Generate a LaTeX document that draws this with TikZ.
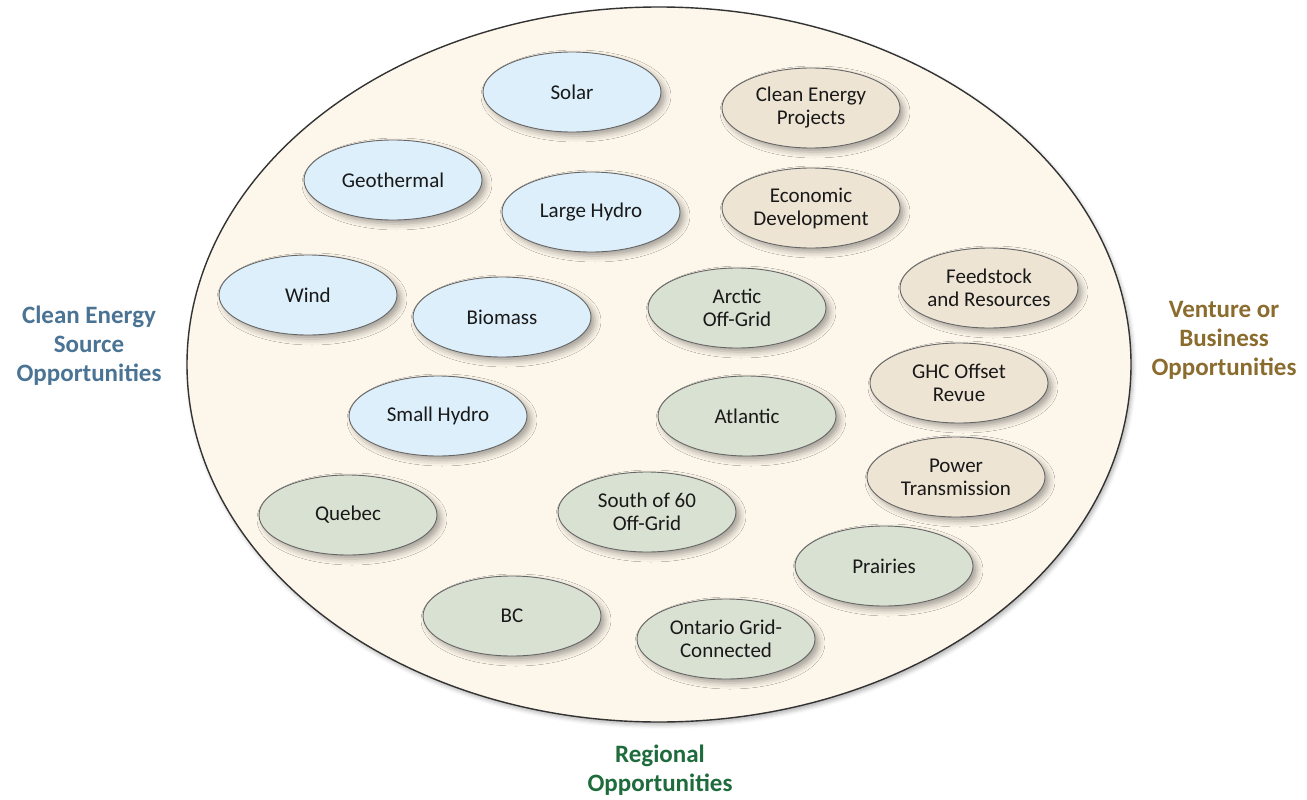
\documentclass[tikz,border=0pt]{standalone}
\usepackage{fontspec}
\setmainfont{Carlito}
\usetikzlibrary{shapes.geometric,shadows.blur}
\definecolor{bigfill}{HTML}{FDF6EA}
\definecolor{srcfill}{HTML}{DDEFFA}
\definecolor{bizfill}{HTML}{EDE4D4}
\definecolor{regfill}{HTML}{D9E1D2}
\definecolor{edgegray}{HTML}{666666}
\definecolor{srccol}{HTML}{4A7394}
\definecolor{bizcol}{HTML}{8A6C2E}
\definecolor{regcol}{HTML}{1E6B3C}
\tikzset{
  blob/.style={ellipse, draw=edgegray, line width=0.9pt, minimum width=178pt, minimum height=80pt,
    inner sep=0pt, align=center, font=\fontsize{21}{23}\selectfont, text=black!90,
    blur shadow={shadow xshift=4pt, shadow yshift=-4pt, shadow blur radius=6pt, shadow opacity=35}},
  src/.style={blob, fill=srcfill},
  biz/.style={blob, fill=bizfill},
  reg/.style={blob, fill=regfill},
  biglabel/.style={align=center, font=\bfseries\fontsize{25}{29}\selectfont}
}
\begin{document}
\begin{tikzpicture}[x=1pt,y=-1pt]
\useasboundingbox (0,0) rectangle (1307,800);
\node[ellipse, draw=black!80, line width=1.4pt, fill=bigfill, minimum width=944pt, minimum height=715pt, inner sep=0pt,
  blur shadow={shadow xshift=2pt, shadow yshift=-3pt, shadow blur radius=4pt, shadow opacity=30}] (big) at (659,364.5) {};
% sources
\node[src] (solar) at (572,92) {Solar};
\node[src] (geo) at (393,180) {Geothermal};
\node[src] (lhydro) at (591,212) {Large Hydro};
\node[src] (wind) at (308,295) {Wind};
\node[src] (bio) at (502,317) {Biomass};
\node[src] (shydro) at (438,416) {Small Hydro};
% business
\node[biz] (cep) at (811,108) {Clean Energy\\Projects};
\node[biz] (econ) at (811,208) {Economic\\Development};
\node[biz] (feed) at (989,288) {Feedstock\\and Resources};
\node[biz] (ghc) at (959,383) {GHC Offset\\Revue};
\node[biz] (power) at (956,477) {Power\\Transmission};
% regions
\node[reg] (arctic) at (737,308) {Arctic\\Off-Grid};
\node[reg] (atl) at (747,416) {Atlantic};
\node[reg] (queb) at (348,515) {Quebec};
\node[reg] (south) at (647,512) {South of 60\\Off-Grid};
\node[reg] (prai) at (884,566) {Prairies};
\node[reg] (bc) at (512,616) {BC};
\node[reg] (ont) at (726,639) {Ontario Grid-\\Connected};
% labels
\node[biglabel, text=srccol] (lsrc) at (89,346) {Clean Energy\\Source\\Opportunities};
\node[biglabel, text=bizcol] (lbiz) at (1224,340) {Venture or\\Business\\Opportunities};
\node[biglabel, text=regcol] (lreg) at (660,770) {Regional\\Opportunities};
\end{tikzpicture}
\end{document}
